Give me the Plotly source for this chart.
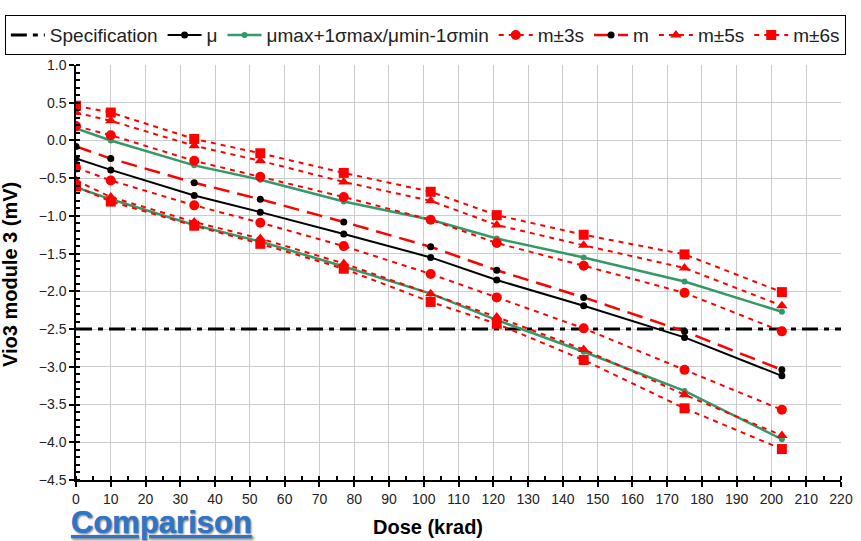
import plotly.graph_objects as go

dose = [0, 10, 34, 53, 77, 102, 121, 146, 175, 203]
spec_level = -2.5
mu = [-0.24, -0.39, -0.73, -0.95, -1.24, -1.55, -1.85, -2.19, -2.61, -3.12]
m = [-0.08, -0.24, -0.56, -0.78, -1.08, -1.41, -1.72, -2.08, -2.53, -3.04]
mu_max_1s = [0.16, 0.0, -0.33, -0.52, -0.81, -1.05, -1.30, -1.55, -1.87, -2.27]
mu_min_1s = [-0.62, -0.78, -1.12, -1.34, -1.67, -2.03, -2.38, -2.80, -3.32, -3.96]
m_p3s = [0.19, 0.07, -0.27, -0.48, -0.75, -1.05, -1.36, -1.66, -2.02, -2.53]
m_m3s = [-0.36, -0.53, -0.86, -1.09, -1.40, -1.77, -2.08, -2.49, -3.04, -3.57]
m_p5s = [0.37, 0.26, -0.07, -0.27, -0.55, -0.80, -1.12, -1.39, -1.69, -2.19]
m_m5s = [-0.53, -0.75, -1.08, -1.30, -1.63, -2.03, -2.34, -2.77, -3.37, -3.91]
m_p6s = [0.46, 0.37, 0.02, -0.17, -0.43, -0.68, -0.99, -1.25, -1.51, -2.01]
m_m6s = [-0.61, -0.81, -1.13, -1.37, -1.70, -2.14, -2.43, -2.91, -3.55, -4.09]
x_range = [0, 220]
y_range = [-4.5, 1.0]

RED = "#ff0000"
GREEN = "#339966"
BLACK = "#000000"
DOT = "5px,5px"
FONT = "Liberation Sans, Arial, sans-serif"

fig = go.Figure()

fig.add_trace(go.Scatter(x=x_range, y=[spec_level, spec_level], mode="lines",
                         name="Specification",
                         line=dict(color=BLACK, width=3, dash="16px,6px,5px,6px")))
fig.add_trace(go.Scatter(x=dose, y=mu, mode="lines+markers", name="μ",
                         line=dict(color=BLACK, width=2),
                         marker=dict(color=BLACK, size=7, symbol="circle")))
fig.add_trace(go.Scatter(x=dose, y=mu_max_1s, mode="lines+markers",
                         name="μmax+1σmax/μmin-1σmin", legendgroup="g",
                         line=dict(color=GREEN, width=2.5),
                         marker=dict(color=GREEN, size=6)))
fig.add_trace(go.Scatter(x=dose, y=mu_min_1s, mode="lines+markers",
                         name="μmax+1σmax/μmin-1σmin", legendgroup="g", showlegend=False,
                         line=dict(color=GREEN, width=2.5),
                         marker=dict(color=GREEN, size=6)))
for i, yy in enumerate([m_p3s, m_m3s]):
    fig.add_trace(go.Scatter(x=dose, y=yy, mode="lines+markers", name="m±3s",
                             legendgroup="s3", showlegend=(i == 0),
                             line=dict(color=RED, width=2, dash=DOT),
                             marker=dict(color=RED, size=10, symbol="circle")))
fig.add_trace(go.Scatter(x=dose, y=m, mode="lines+markers", name="m",
                         line=dict(color=RED, width=2.5, dash="16px,8px"),
                         marker=dict(color=BLACK, size=7, symbol="circle")))
for i, yy in enumerate([m_p5s, m_m5s]):
    fig.add_trace(go.Scatter(x=dose, y=yy, mode="lines+markers", name="m±5s",
                             legendgroup="s5", showlegend=(i == 0),
                             line=dict(color=RED, width=2, dash=DOT),
                             marker=dict(color=RED, size=10, symbol="triangle-up")))
for i, yy in enumerate([m_p6s, m_m6s]):
    fig.add_trace(go.Scatter(x=dose, y=yy, mode="lines+markers", name="m±6s",
                             legendgroup="s6", showlegend=(i == 0),
                             line=dict(color=RED, width=2, dash=DOT),
                             marker=dict(color=RED, size=10, symbol="square")))

fig.update_layout(
    width=861, height=541,
    margin=dict(l=76, r=20, t=65, b=61, autoexpand=False),
    paper_bgcolor="white", plot_bgcolor="white",
    font=dict(family=FONT, size=14, color="#222222"),
    showlegend=True,
    legend=dict(orientation="h", x=-0.093, xanchor="left", y=1.12, yanchor="top",
                bordercolor=BLACK, borderwidth=1, bgcolor="white",
                font=dict(size=19, color="#222222"), itemwidth=34,
                tracegroupgap=0, traceorder="normal"),
    xaxis=dict(range=x_range, dtick=10, tick0=0, showgrid=True, gridcolor="#cccccc",
               gridwidth=1, zeroline=False, showline=True, linecolor=BLACK, linewidth=1.5,
               ticks="outside", ticklen=5, tickcolor=BLACK, tickwidth=1.5,
               minor=dict(dtick=5, ticks="inside", ticklen=4, tickcolor=BLACK, showgrid=False),
               automargin=False),
    yaxis=dict(range=y_range, dtick=0.5, tick0=0, tickformat=".1f", showgrid=True,
               gridcolor="#cccccc", gridwidth=1, zeroline=False, showline=True,
               linecolor=BLACK, linewidth=1.5, ticks="outside", ticklen=5, tickcolor=BLACK,
               tickwidth=1.5,
               minor=dict(dtick=0.1, ticks="inside", ticklen=4, tickcolor=BLACK, showgrid=False),
               automargin=False),
    annotations=[
        dict(text="<b><u>Comparison</u></b>", xref="paper", yref="paper",
             x=-0.009, y=-0.103, xanchor="left", yanchor="middle", showarrow=False,
             font=dict(family=FONT, size=31, color="#2E75C8", shadow="1px 1px 2px #999999")),
        dict(text="<b>Dose (krad)</b>", xref="paper", yref="paper",
             x=(428 - 76) / 765, y=-(527 - 480) / 415, xanchor="center", yanchor="middle",
             showarrow=False, font=dict(family=FONT, size=20, color=BLACK)),
        dict(text="<b>Vio3 module 3 (mV)</b>", xref="paper", yref="paper",
             x=-(76 - 10) / 765, y=(480 - 275) / 415, xanchor="center", yanchor="middle",
             textangle=-90, showarrow=False, font=dict(family=FONT, size=20, color=BLACK)),
    ],
)

fig.write_html("out.html", config={"displayModeBar": False},
               post_script="document.body.style.margin='0px';")
